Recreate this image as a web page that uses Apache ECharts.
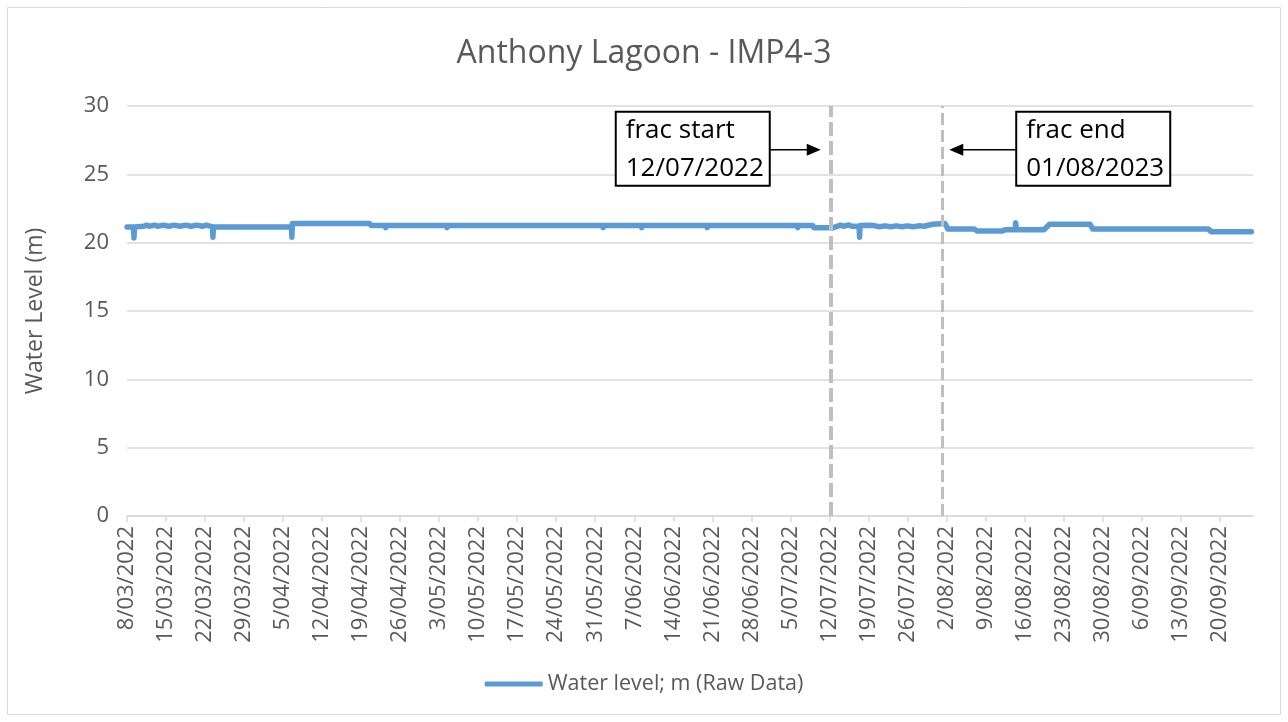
<!DOCTYPE html>
<html>
<head>
<meta charset="utf-8">
<title>Anthony Lagoon - IMP4-3</title>
<script src="https://cdn.jsdelivr.net/npm/echarts@6/dist/echarts.min.js"></script>
<style>
  html, body { margin: 0; padding: 0; background: #fff; }
  #chart { width: 1288px; height: 722px; }
</style>
</head>
<body>
<div id="chart"></div>
<script>
// water level readings, [date hour, metres]
var levelPoints = [
    ['2022-03-08 00', 21.15], ['2022-03-09 04', 21.15], ['2022-03-09 06', 20.35], ['2022-03-09 08', 21.15],
    ['2022-03-11 00', 21.2], ['2022-03-11 12', 21.28], ['2022-03-12 00', 21.2], ['2022-03-13 00', 21.28],
    ['2022-03-13 12', 21.2], ['2022-03-14 12', 21.28], ['2022-03-15 12', 21.2], ['2022-03-16 12', 21.28],
    ['2022-03-17 12', 21.2], ['2022-03-18 12', 21.28], ['2022-03-19 12', 21.2], ['2022-03-20 12', 21.28],
    ['2022-03-21 12', 21.2], ['2022-03-22 06', 21.28], ['2022-03-23 08', 21.15], ['2022-03-23 10', 20.4],
    ['2022-03-23 12', 21.15], ['2022-04-06 12', 21.15], ['2022-04-06 14', 20.4], ['2022-04-06 16', 21.4],
    ['2022-04-20 12', 21.4], ['2022-04-20 20', 21.25], ['2022-04-23 08', 21.25], ['2022-04-23 10', 21.1],
    ['2022-04-23 12', 21.25], ['2022-05-04 08', 21.25], ['2022-05-04 10', 21.1], ['2022-05-04 12', 21.25],
    ['2022-05-17 12', 21.25], ['2022-05-17 14', 21.38], ['2022-05-17 16', 21.25], ['2022-06-01 08', 21.25],
    ['2022-06-01 10', 21.1], ['2022-06-01 12', 21.25], ['2022-06-08 06', 21.25], ['2022-06-08 08', 21.1],
    ['2022-06-08 10', 21.25], ['2022-06-20 00', 21.25], ['2022-06-20 02', 21.1], ['2022-06-20 04', 21.25],
    ['2022-07-06 06', 21.25], ['2022-07-06 08', 21.1], ['2022-07-06 10', 21.25], ['2022-07-09 00', 21.25],
    ['2022-07-09 06', 21.1], ['2022-07-12 18', 21.1], ['2022-07-13 00', 21.2], ['2022-07-14 00', 21.28],
    ['2022-07-14 12', 21.2], ['2022-07-15 12', 21.3], ['2022-07-16 00', 21.2], ['2022-07-17 08', 21.2],
    ['2022-07-17 10', 20.4], ['2022-07-17 12', 21.25], ['2022-07-19 00', 21.28], ['2022-07-20 00', 21.25],
    ['2022-07-21 00', 21.17], ['2022-07-22 00', 21.23], ['2022-07-23 00', 21.17], ['2022-07-24 00', 21.23],
    ['2022-07-25 00', 21.17], ['2022-07-26 00', 21.23], ['2022-07-27 00', 21.17], ['2022-07-28 00', 21.23],
    ['2022-07-29 00', 21.2], ['2022-07-30 12', 21.35], ['2022-08-01 18', 21.4], ['2022-08-02 06', 21.0],
    ['2022-08-02 12', 20.9], ['2022-08-03 00', 21.0], ['2022-08-07 00', 21.0], ['2022-08-07 12', 20.85],
    ['2022-08-12 00', 20.85], ['2022-08-12 12', 20.95], ['2022-08-14 08', 20.95], ['2022-08-14 10', 21.45],
    ['2022-08-14 14', 20.95], ['2022-08-19 12', 20.95], ['2022-08-20 12', 21.35], ['2022-08-27 18', 21.35],
    ['2022-08-28 06', 21.0], ['2022-09-18 00', 21.0], ['2022-09-18 12', 20.8], ['2022-09-25 17', 20.8]
];

var startDate = '2022-03-08';
var endDate = '2022-09-26';
var tickDates = [
    '2022-03-08', '2022-03-15', '2022-03-22', '2022-03-29', '2022-04-05', '2022-04-12', '2022-04-19',
    '2022-04-26', '2022-05-03', '2022-05-10', '2022-05-17', '2022-05-24', '2022-05-31', '2022-06-07',
    '2022-06-14', '2022-06-21', '2022-06-28', '2022-07-05', '2022-07-12', '2022-07-19', '2022-07-26',
    '2022-08-02', '2022-08-09', '2022-08-16', '2022-08-23', '2022-08-30', '2022-09-06', '2022-09-13',
    '2022-09-20'
];

var fracDates = ['2022-07-12 06', '2022-08-01 06'];
var fracLabels = ['frac start\n12/07/2022', 'frac end\n01/08/2023'];

var GREY_TEXT = '#595959';
var GRID_LINE = '#D9D9D9';
var FONT = 'Open Sans';

function toDay(s) {
    var parts = s.split(' ');
    var ymd = parts[0].split('-').map(Number);
    var h = parts[1] ? Number(parts[1]) : 0;
    var base = startDate.split('-').map(Number);
    return (Date.UTC(ymd[0], ymd[1] - 1, ymd[2], h) - Date.UTC(base[0], base[1] - 1, base[2])) / 864e5;
}

function dayLabel(v) {
    var base = startDate.split('-').map(Number);
    var d = new Date(Date.UTC(base[0], base[1] - 1, base[2]) + Math.round(v) * 864e5);
    var mm = ('0' + (d.getUTCMonth() + 1)).slice(-2);
    return d.getUTCDate() + '/' + mm + '/' + d.getUTCFullYear();
}

var tickValues = tickDates.map(toDay);

var chart = echarts.init(document.getElementById('chart'));

chart.setOption({
    animation: false,
    title: {
        text: 'Anthony Lagoon - IMP4-3',
        left: 'center',
        top: 33,
        textStyle: { fontFamily: FONT, fontSize: 32, fontWeight: 'normal', color: GREY_TEXT }
    },
    legend: {
        bottom: 22,
        left: 'center',
        icon: 'roundRect',
        itemWidth: 58,
        itemHeight: 5,
        textStyle: { fontFamily: FONT, fontSize: 21.5, color: GREY_TEXT }
    },
    grid: {
        left: 127,
        right: 35,
        top: 106,
        bottom: 206,
        containLabel: false,
        outerBoundsMode: 'none'
    },
    xAxis: {
        type: 'value',
        min: 0,
        max: toDay(endDate),
        splitLine: { show: false },
        axisLine: { show: true, lineStyle: { color: GRID_LINE, width: 1.5 } },
        axisTick: { show: true, length: 6, customValues: tickValues, lineStyle: { color: GRID_LINE, width: 1.5 } },
        axisLabel: {
            customValues: tickValues,
            rotate: 90,
            margin: 10,
            fontFamily: FONT,
            fontSize: 22,
            color: GREY_TEXT,
            formatter: dayLabel
        }
    },
    yAxis: {
        type: 'value',
        min: 0,
        max: 30,
        interval: 5,
        name: 'Water Level (m)',
        nameLocation: 'middle',
        nameRotate: 90,
        nameGap: 80,
        nameTextStyle: { fontFamily: FONT, fontSize: 23, color: GREY_TEXT },
        axisLine: { show: false },
        axisTick: { show: false },
        axisLabel: { margin: 18, fontFamily: FONT, fontSize: 22, color: GREY_TEXT },
        splitLine: { lineStyle: { color: GRID_LINE, width: 1.5 } }
    },
    series: [{
        name: 'Water level; m (Raw Data)',
        type: 'line',
        showSymbol: false,
        data: levelPoints.map(function (p) { return [toDay(p[0]), p[1]]; }),
        lineStyle: { color: '#5B9BD5', width: 5.5, join: 'round', cap: 'round' },
        itemStyle: { color: '#5B9BD5' },
        markLine: {
            silent: true,
            symbol: ['none', 'none'],
            label: { show: false },
            data: [
                { xAxis: toDay(fracDates[0]), lineStyle: { color: '#BFBFBF', width: 4, type: [14, 5] } },
                { xAxis: toDay(fracDates[1]), lineStyle: { color: '#BFBFBF', width: 3, type: [12, 5] } }
            ]
        }
    }]
});

// boxed annotations with arrows pointing at the frac lines
function annotation(lineX, arrowY, text, side) {
    var boxW = 154, boxH = 74;
    var boxX = side === 'left' ? lineX - 61 - boxW : lineX + 74;
    var boxY = arrowY - 38;
    var arrowFrom = side === 'left' ? boxX + boxW : boxX;
    var tip = side === 'left' ? lineX - 10 : lineX + 7;
    var dir = side === 'left' ? 1 : -1;
    return {
        type: 'group',
        children: [{
            type: 'rect',
            shape: { x: boxX, y: boxY, width: boxW, height: boxH },
            style: { fill: '#fff', stroke: '#000', lineWidth: 2 }
        }, {
            type: 'text',
            x: boxX + 10,
            y: boxY,
            style: { text: text, fontFamily: FONT, fontSize: 26, lineHeight: 38, fill: '#000' }
        }, {
            type: 'line',
            shape: { x1: arrowFrom, y1: arrowY, x2: tip - dir * 12, y2: arrowY },
            style: { stroke: '#000', lineWidth: 1.5 }
        }, {
            type: 'polygon',
            shape: { points: [[tip, arrowY], [tip - dir * 14, arrowY - 6], [tip - dir * 14, arrowY + 6]] },
            style: { fill: '#000' }
        }]
    };
}

var startPx = chart.convertToPixel({ xAxisIndex: 0, yAxisIndex: 0 }, [toDay(fracDates[0]), 26.8]);
var endPx = chart.convertToPixel({ xAxisIndex: 0, yAxisIndex: 0 }, [toDay(fracDates[1]), 26.8]);

chart.setOption({
    graphic: [
        {
            type: 'rect',
            shape: { x: 7.5, y: 7.5, width: 1273, height: 707 },
            style: { fill: 'none', stroke: GRID_LINE, lineWidth: 1 },
            silent: true
        },
        annotation(startPx[0], startPx[1], fracLabels[0], 'left'),
        annotation(endPx[0], endPx[1], fracLabels[1], 'right')
    ]
});
</script>
</body>
</html>
